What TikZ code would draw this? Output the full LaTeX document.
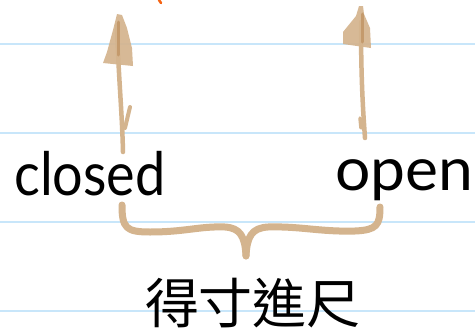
\documentclass[tikz,border=0pt]{standalone}
\usepackage{fontspec}
\setmainfont{Lato}
\newfontfamily\cjk{Noto Sans CJK TC}
\definecolor{tan}{RGB}{212,180,142}
\definecolor{tandark}{RGB}{196,154,108}
\definecolor{rulecol}{RGB}{200,230,250}
\definecolor{orangemark}{RGB}{245,100,20}
\tikzset{
  ruleline/.style={draw=rulecol, line width=1.5pt},
  shaft/.style={draw=tan, line width=4.5pt, line cap=round},
  headfill/.style={fill=tan, fill opacity=0.92, draw=none},
  bracestroke/.style={draw=tan, line width=7pt, line cap=round, line join=round},
  hand/.style={inner sep=0pt, anchor=base west, font=\fontsize{60}{66}\selectfont},
}
\begin{document}
\begin{tikzpicture}[x=1pt,y=-1pt]
\useasboundingbox (0,0) rectangle (475,330);
\fill[white] (0,0) rectangle (475,330);
% ruled lines
\foreach \yy in {44,133,222,311} \draw[ruleline] (0,\yy) -- (475,\yy);
% orange mark
\draw[draw=orangemark, line width=2.5pt, line cap=round] (159,0) -- (161,3);
% texts
\node[hand] (closed) at (14,195) {\scalebox{0.9}[1]{closed}};
\node[hand] (open) at (335,190) {\scalebox{1.04}[1]{open}};
\node[inner sep=0pt, font=\cjk\fontsize{54}{60}\selectfont] (idiom) at (253,303) {得寸進尺};
% left arrow
\coordinate (lbot) at (123,152);
\coordinate (ltip) at (117,14);
\draw[shaft] (lbot) .. controls (122,110) and (118,70) .. (117,25);
\draw[shaft, line width=4pt] (130,107) -- (125,128);
\fill[headfill] (ltip) -- (122,15) -- (127,28) -- (132,48) -- (133,66) -- (103,63) -- (107,52) -- (113,30) -- cycle;
\draw[draw=tandark, line width=3pt, line cap=round] (118,22) -- (118,55);
% right arrow
\coordinate (rbot) at (365,138);
\coordinate (rtip) at (359,6);
\draw[shaft] (rbot) .. controls (363,110) and (361,80) .. (361,22);
\draw[shaft, line width=3.5pt] (360,118) -- (361,128);
\fill[headfill] (rtip) -- (363,6) -- (364,14) -- (370,28) -- (371,48) -- (343,44) -- (343,32) -- (356,16) -- cycle;
\draw[draw=tandark, line width=3pt, line cap=round] (362,14) -- (362,42);
% brace
\coordinate (bl) at (122,205);
\coordinate (bm) at (246,256);
\coordinate (br) at (380,207);
\draw[bracestroke] (bl) .. controls (122,228) and (126,232) .. (150,232)
  .. controls (185,232) and (200,226) .. (225,227)
  .. controls (240,228) and (245,236) .. (bm);
\draw[bracestroke] (bm) .. controls (247,236) and (252,228) .. (268,227)
  .. controls (300,226) and (320,232) .. (355,231)
  .. controls (377,230) and (380,225) .. (br);
\end{tikzpicture}
\end{document}
